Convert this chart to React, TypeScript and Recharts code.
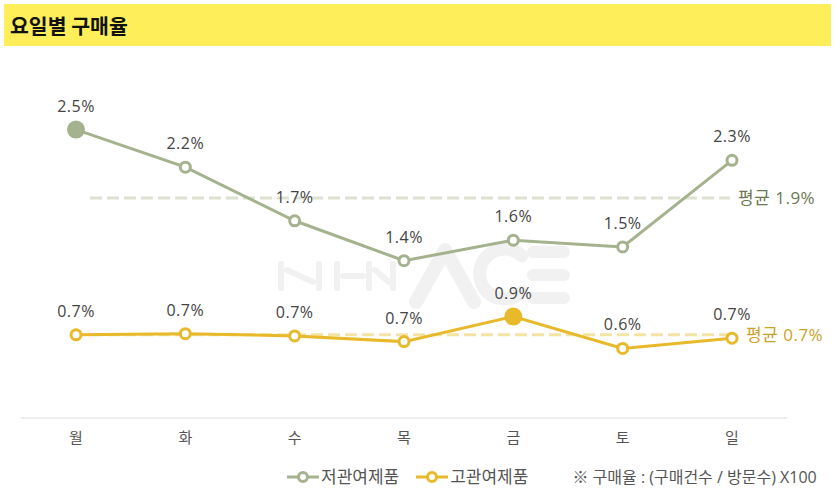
import { LineChart, Line, XAxis, YAxis, ReferenceLine, LabelList } from 'recharts';

const days = ['월', '화', '수', '목', '금', '토', '일'];
const lowInvolvement = [2.53, 2.2, 1.73, 1.38, 1.56, 1.5, 2.26];
const highInvolvement = [0.73, 0.74, 0.72, 0.67, 0.89, 0.61, 0.7];
const seriesNames = ['저관여제품', '고관여제품'];
const averages = [1.93, 0.73];
const averageLabels = ['평균 1.9%', '평균 0.7%'];
const note = '※ 구매율 : (구매건수 / 방문수) X100';

const GREEN = '#a4b28e';
const YELLOW = '#e8b92b';
const FONT = "'Open Sans', 'Noto Sans CJK KR', sans-serif";
const MARK = '#f1f1f1';

const data = days.map((d, i) => ({ day: d, low: lowInvolvement[i], high: highInvolvement[i] }));

function makeDot(color: string, values: number[]) {
  const maxIdx = values.indexOf(Math.max(...values));
  return (props: any) => {
    const { cx, cy, index } = props;
    if (index === maxIdx) {
      return <circle key={`d${index}`} cx={cx} cy={cy} r={9} fill={color} stroke="none" />;
    }
    return <circle key={`d${index}`} cx={cx} cy={cy} r={5} fill="#fff" stroke={color} strokeWidth={3} />;
  };
}

const dashedShape = (color: string) => (p: any) => (
  <line x1={p.x1 + 14} y1={p.y1} x2={p.x2 - 2} y2={p.y2} stroke={color} strokeWidth={3} strokeDasharray="12 5" />
);

function LegendIcon({ color }: { color: string }) {
  return (
    <svg width={32} height={12} style={{ verticalAlign: 'middle', marginRight: 2, position: 'relative', top: -1 }}>
      <line x1={0} y1={6} x2={32} y2={6} stroke={color} strokeWidth={3} />
      <circle cx={16} cy={6} r={4.5} fill="#fff" stroke={color} strokeWidth={3} />
    </svg>
  );
}

// faint logo behind the plot
function Watermark() {
  return (
    <svg width={837} height={503} style={{ position: 'absolute', left: 0, top: 0 }}>
      <g stroke={MARK} strokeLinecap="round" strokeLinejoin="round" fill="none">
        <g strokeWidth={6}>
          <path d="M281 264 V288 M287 270 L313 282 M319 264 V288" />
          <path d="M337 264 V288 M343 276 H363 M369 264 V288" />
          <path d="M375 270 L389 282 M393 264 V288" />
        </g>
        <path d="M416 302 L445 250 L474 302" strokeWidth={14} />
        <path d="M522 256 A25 25 0 1 0 522 292" strokeWidth={13} />
        <path d="M533 252 H564 M533 275 H564 M533 298 H564" strokeWidth={12} />
      </g>
    </svg>
  );
}

const valueLabel = (v: any) => `${Number(v).toFixed(1)}%`;

export default function App() {
  return (
    <div style={{ position: 'absolute', left: 0, top: 0, width: 837, height: 503, background: '#fff', fontFamily: FONT, overflow: 'hidden' }}>
      <div
        style={{
          position: 'absolute', left: 4, top: 4, width: 827, height: 42, background: '#fdee5a',
          fontWeight: 700, fontSize: 20.5, lineHeight: '42px', paddingLeft: 6, boxSizing: 'border-box', color: '#111',
          fontFamily: "'Noto Sans CJK KR', sans-serif",
        }}
      >
        요일별 구매율
      </div>
      <Watermark />
      <div style={{ position: 'absolute', left: 0, top: 0 }}>
        <LineChart width={837} height={503} data={data} margin={{ top: 76, right: 50, bottom: 55, left: 21 }}>
          <XAxis
            dataKey="day"
            height={30}
            padding={{ left: 55, right: 55 }}
            axisLine={{ stroke: '#dddddd' }}
            tickLine={false}
            tickMargin={8}
            tick={{ fontSize: 15, fill: '#555', fontFamily: FONT }}
          />
          <YAxis hide domain={[0, 3]} />
          <ReferenceLine
            segment={[{ x: days[0], y: averages[0] }, { x: days[6], y: averages[0] }]}
            shape={dashedShape('#dde1cf')}
            label={{ value: averageLabels[0], position: 'right', offset: 6, fill: '#6b7853', fontSize: 17, letterSpacing: 0.5, fontFamily: FONT }}
          />
          <ReferenceLine
            segment={[{ x: days[0], y: averages[1] }, { x: days[6], y: averages[1] }]}
            shape={dashedShape('#f3e4a4')}
            label={{ value: averageLabels[1], position: 'right', offset: 14, fill: '#c9a32a', fontSize: 17, letterSpacing: 0.5, fontFamily: FONT }}
          />
          <Line dataKey="high" name={seriesNames[1]} stroke={YELLOW} strokeWidth={3} dot={makeDot(YELLOW, highInvolvement)} activeDot={false} isAnimationActive={false}>
            <LabelList dataKey="high" position="top" offset={18} fill="#444" fontSize={16} letterSpacing={0.5} fontFamily={FONT} formatter={valueLabel} />
          </Line>
          <Line dataKey="low" name={seriesNames[0]} stroke={GREEN} strokeWidth={3} dot={makeDot(GREEN, lowInvolvement)} activeDot={false} isAnimationActive={false}>
            <LabelList dataKey="low" position="top" offset={18} fill="#444" fontSize={16} letterSpacing={0.5} fontFamily={FONT} formatter={valueLabel} />
          </Line>
        </LineChart>
      </div>
      <div style={{ position: 'absolute', left: 287, top: 466, fontSize: 17, color: '#555', whiteSpace: 'nowrap', lineHeight: '22px' }}>
        <span><LegendIcon color={GREEN} />{seriesNames[0]}</span>
        <span style={{ marginLeft: 17 }}><LegendIcon color={YELLOW} />{seriesNames[1]}</span>
        <span style={{ marginLeft: 44, fontSize: 16 }}>{note}</span>
      </div>
    </div>
  );
}
